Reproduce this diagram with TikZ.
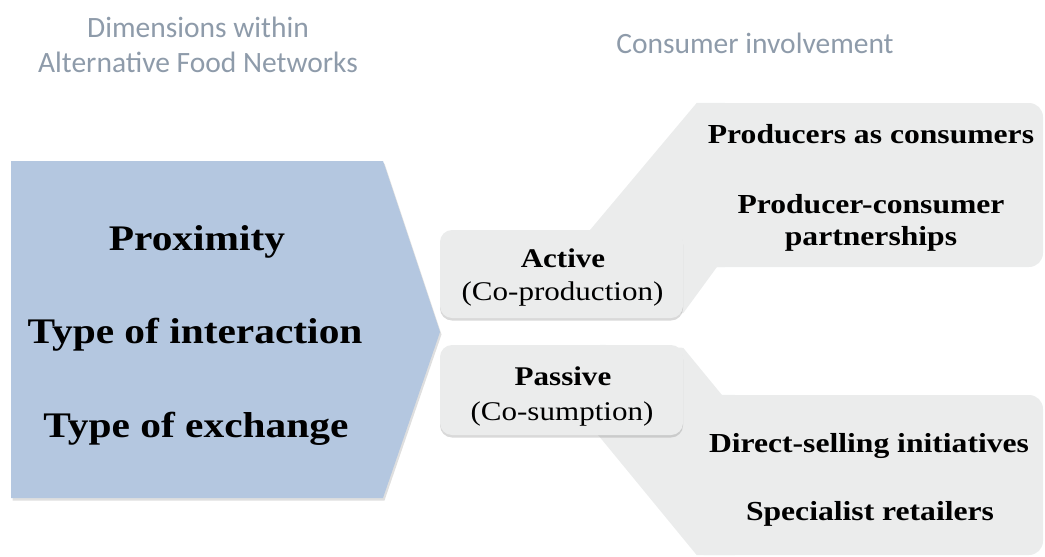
\documentclass[tikz,border=0pt]{standalone}
\usepackage{fontspec}
\setmainfont{Liberation Serif}[FakeStretch=1.15]
\newfontfamily\headfont{Carlito}
\usepackage{tikz}
\usetikzlibrary{positioning,shadows}
\definecolor{DimBlue}{HTML}{B4C7E0}
\definecolor{BoxGrey}{HTML}{EBECEC}
\definecolor{HeadGrey}{HTML}{8E9BAA}
\pgfdeclarelayer{bg}
\pgfsetlayers{bg,main}

\begin{document}
\begin{tikzpicture}[x=1pt,y=-1pt,
  head/.style={font=\headfont\fontsize{29.5}{35}\selectfont,text=HeadGrey,align=center},
  dimtext/.style={font=\bfseries\fontsize{36}{40}\selectfont,anchor=base},
  modebox/.style={fill=BoxGrey,rounded corners=12pt,minimum width=243pt,minimum height=88pt,
    drop shadow={opacity=0.3,shadow xshift=0pt,shadow yshift=-2.5pt}},
  modename/.style={font=\bfseries\fontsize{27}{32}\selectfont,anchor=base},
  modesub/.style={font=\fontsize{27}{32}\selectfont,anchor=base},
  groupbox/.style={fill=BoxGrey,rounded corners=14pt,minimum width=353pt},
  item/.style={font=\bfseries\fontsize{27.5}{32}\selectfont,align=center}
]
\useasboundingbox (0,0) rectangle (1045,557);

% column heads
\node[head] (dimhead) at (198,45) {Dimensions within\\Alternative Food Networks};
\node[head,anchor=base] (conshead) at (755,53) {Consumer involvement};

% dimensions arrow
\path[fill=DimBlue,drop shadow={opacity=0.25,shadow xshift=1.5pt,shadow yshift=-2.5pt}]
  (11,161) -- (383,161) -- (440,332) -- (383,498) -- (11,498) -- cycle;
\node[dimtext] (prox) at (197,250) {Proximity};
\node[dimtext] (inter) at (195,343) {Type of interaction};
\node[dimtext] (exch) at (196,437) {Type of exchange};

% involvement modes
\node[modebox] (active) at (561.5,274) {};
\node[modebox,minimum height=90pt] (passive) at (561.5,390) {};
\node[modename] (actname) at (563,267) {Active};
\node[modesub] (actsub) at (562.5,300) {(Co-production)};
\node[modename] (pasname) at (563,385) {Passive};
\node[modesub] (passub) at (562,420) {(Co-sumption)};

\begin{pgfonlayer}{bg}
\node[groupbox,minimum height=164pt] (upbox) at (866.5,185) {};
\node[groupbox,minimum height=160pt] (lowbox) at (866.5,475) {};
% bands joining each mode to its group
\fill[BoxGrey] ([xshift=-93pt]active.north east) -- ([xshift=7pt]upbox.north west)
  -- ([xshift=35pt]upbox.north west) -- ([xshift=35pt]upbox.south west)
  -- ([xshift=27pt]upbox.south west) -- ([yshift=5pt]active.south east)
  -- ([xshift=-83pt,yshift=5pt]active.south east) -- cycle;
\fill[BoxGrey] ([xshift=-83pt]passive.north east) -- ([yshift=-3pt]passive.north east)
  -- ([xshift=32pt]lowbox.north west) -- ([xshift=45pt]lowbox.north west)
  -- ([xshift=45pt]lowbox.south west) -- ([xshift=7pt]lowbox.south west)
  -- ([xshift=-85pt]passive.south east) -- ([xshift=-85pt,yshift=-35pt]passive.north east) -- cycle;
\end{pgfonlayer}

% network types
\node[item,anchor=base] (pascons) at (871,143) {Producers as consumers};
\node[item] (partner) at (871,222.5) {Producer-consumer\\partnerships};
\node[item,anchor=base] (direct) at (869,452) {Direct-selling initiatives};
\node[item,anchor=base] (retail) at (870,520) {Specialist retailers};
\end{tikzpicture}
\end{document}
